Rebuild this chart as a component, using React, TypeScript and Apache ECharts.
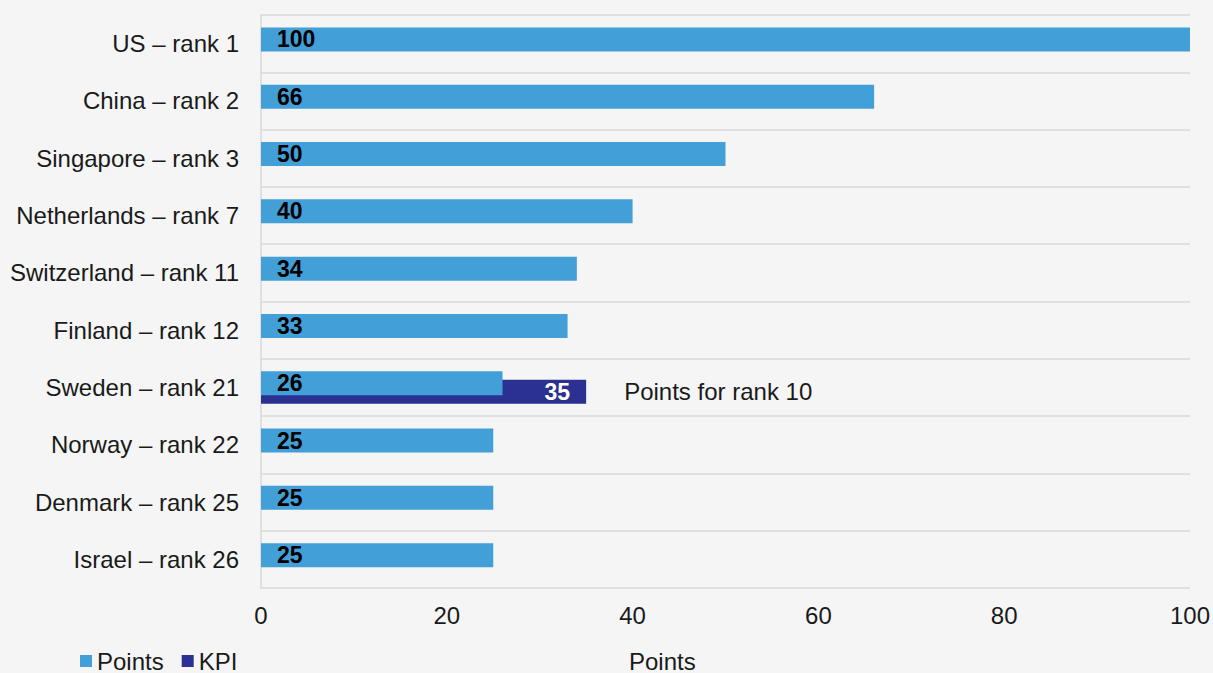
import React, { useEffect, useRef } from "react";
import * as echarts from "echarts";

const categories = [
  "US – rank 1",
  "China – rank 2",
  "Singapore – rank 3",
  "Netherlands – rank 7",
  "Switzerland – rank 11",
  "Finland – rank 12",
  "Sweden – rank 21",
  "Norway – rank 22",
  "Denmark – rank 25",
  "Israel – rank 26",
];
const pointsValues = [100, 66, 50, 40, 34, 33, 26, 25, 25, 25];
const kpiValues: (number | null)[] = [null, null, null, null, null, null, 35, null, null, null];
const kpiNote = "Points for rank 10";
const xTicks = { min: 0, max: 100, interval: 20 };

const FONT = "'Liberation Sans', Arial, sans-serif";
const TEXT = "#1a1a1a";
const GRID = "#d9d9d9";
const FS = 24;

export default function App() {
  const ref = useRef<HTMLDivElement>(null);
  useEffect(() => {
    if (!ref.current) return;
    const chart = echarts.init(ref.current, null, { renderer: "svg" });
    const kpiIdx = kpiValues.findIndex((v) => v != null);
    chart.setOption({
      animation: false,
      backgroundColor: "#f4f5f4",
      textStyle: { fontFamily: FONT },
      grid: { left: 261, right: 20, top: 15, bottom: 85, containLabel: false },
      legend: {
        data: ["Points", "KPI"],
        left: 80,
        top: 649,
        padding: 0,
        itemWidth: 12,
        itemHeight: 12,
        itemGap: 18,
        icon: "rect",
        textStyle: { fontSize: FS, color: TEXT, fontFamily: FONT, padding: [0, 0, 0, 0] },
      },
      xAxis: {
        type: "value",
        min: xTicks.min,
        max: xTicks.max,
        interval: xTicks.interval,
        axisLine: { show: false },
        axisTick: { show: false },
        splitLine: { show: false },
        axisLabel: { fontSize: FS, color: TEXT, margin: 15, fontFamily: FONT },
      },
      yAxis: {
        type: "category",
        data: categories,
        inverse: true,
        axisLine: { show: true, lineStyle: { color: GRID, width: 1.5 } },
        axisTick: { show: false },
        splitLine: { show: true, lineStyle: { color: GRID, width: 1.5 } },
        axisLabel: { fontSize: FS, color: TEXT, margin: 22, fontFamily: FONT },
      },
      graphic: [
        {
          type: "text",
          left: 629,
          top: 649,
          style: { text: "Points", fontSize: FS, lineHeight: 24, fill: TEXT, fontFamily: FONT },
        },
      ],
      series: [
        {
          name: "Points",
          type: "bar",
          data: pointsValues,
          barWidth: 24,
          barGap: "-65%",
          z: 3,
          itemStyle: { color: "#429fd7" },
          label: {
            show: true,
            position: "insideLeft",
            distance: 16,
            fontSize: 23,
            fontWeight: "bold",
            color: "#000",
            fontFamily: FONT,
          },
        },
        {
          name: "KPI",
          type: "bar",
          data: kpiValues,
          barWidth: 24,
          z: 2,
          itemStyle: { color: "#2b3190" },
          label: {
            show: true,
            position: "insideRight",
            distance: 16,
            fontSize: 23,
            fontWeight: "bold",
            color: "#fff",
            fontFamily: FONT,
          },
          markPoint: {
            symbol: "rect",
            symbolSize: 0,
            data: [
              {
                coord: [kpiValues[kpiIdx], categories[kpiIdx]],
                label: {
                  show: true,
                  position: "right",
                  distance: 38,
                  offset: [0, 0],
                  formatter: kpiNote,
                  fontSize: FS,
                  color: TEXT,
                  fontFamily: FONT,
                },
              },
            ],
          },
        },
      ],
    });
    return () => chart.dispose();
  }, []);
  return (
    <div
      ref={ref}
      style={{ position: "fixed", left: 0, top: 0, width: 1213, height: 673 }}
    />
  );
}
